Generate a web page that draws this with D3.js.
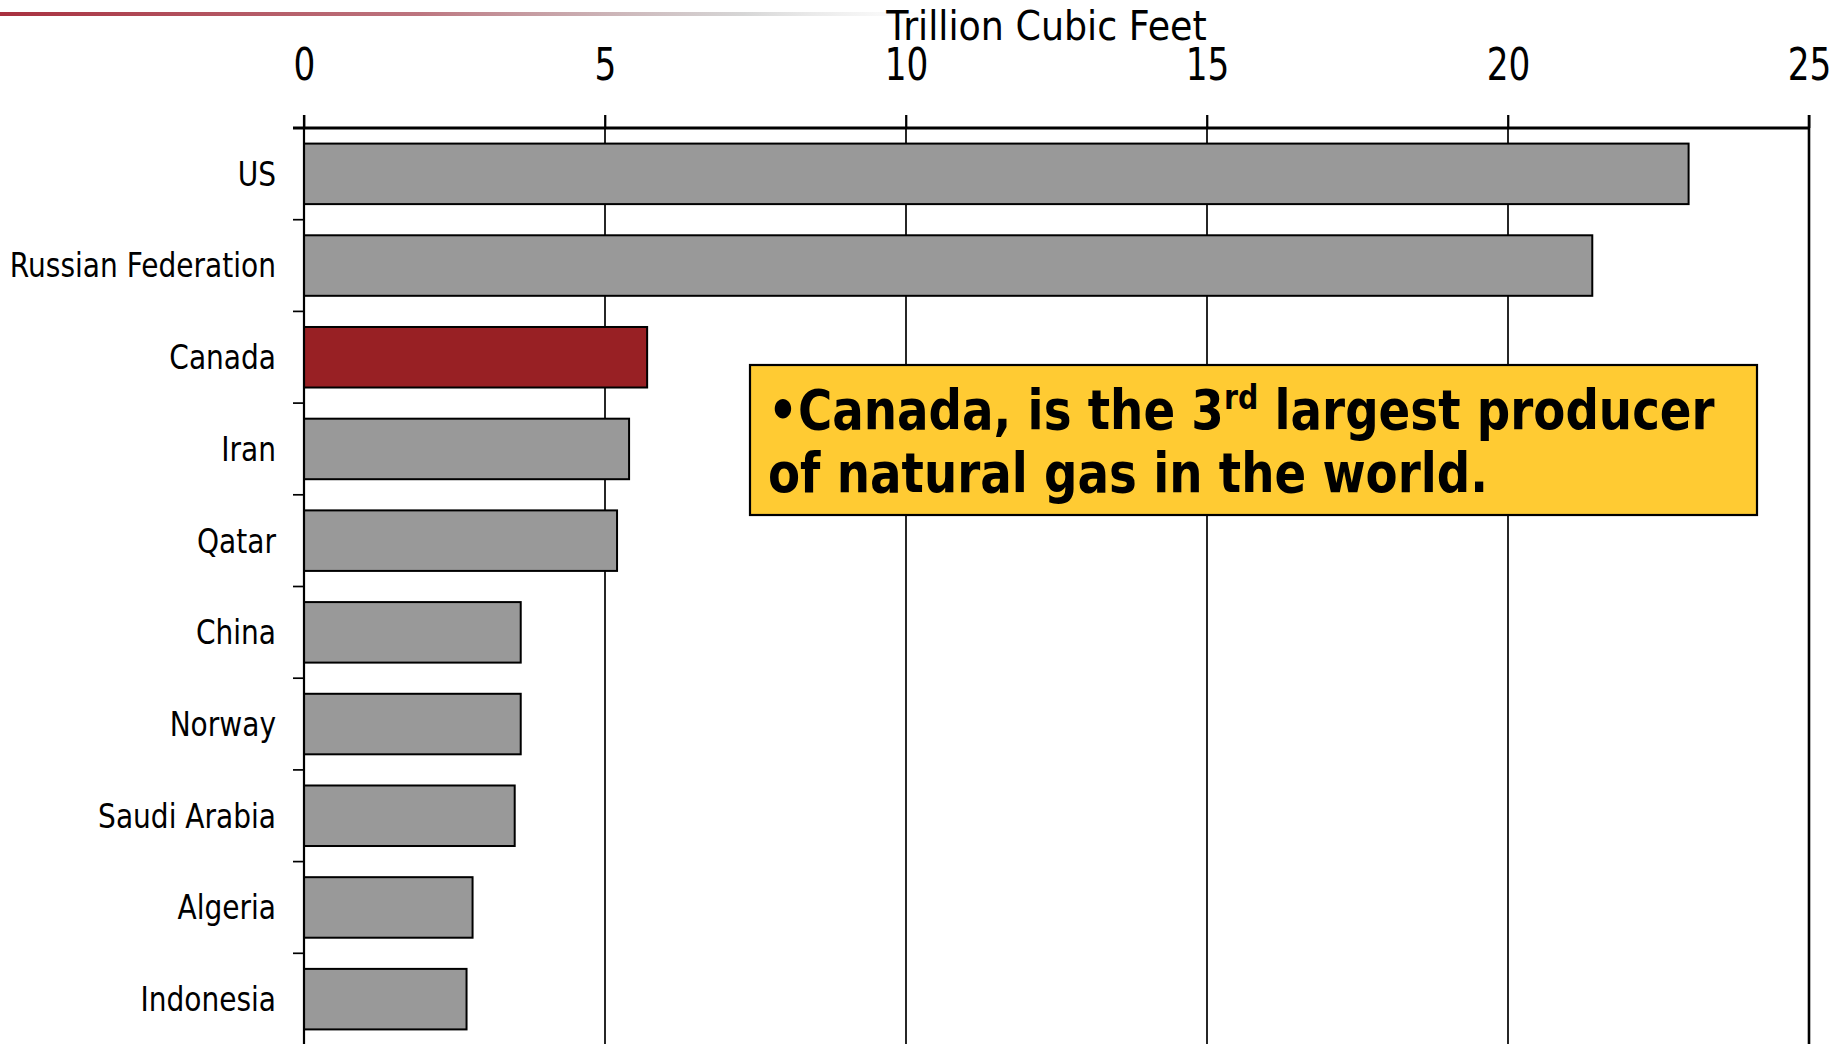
<!DOCTYPE html>
<html>
<head>
<meta charset="utf-8">
<script src="https://cdn.jsdelivr.net/npm/d3@7"></script>
<style>
  html, body { margin: 0; padding: 0; background: #ffffff; }
  svg { display: block; }
  text { font-family: "DejaVu Sans", Verdana, sans-serif; fill: #000; }
</style>
</head>
<body>
<svg id="chart" width="1835" height="1044"></svg>
<script>
// ---- data ----
const categories = ["US", "Russian Federation", "Canada", "Iran", "Qatar", "China", "Norway", "Saudi Arabia", "Algeria", "Indonesia"];
const values = [23.0, 21.4, 5.7, 5.4, 5.2, 3.6, 3.6, 3.5, 2.8, 2.7];
const highlight = "Canada";
const xTicks = [0, 5, 10, 15, 20, 25];
const axisTitle = "Trillion Cubic Feet";
const noteLine1 = ["•Canada, is the 3", "rd", " largest producer"];
const noteLine2 = "of natural gas in the world.";

// ---- layout ----
const mLeft = 304, mRight = 1809, mTop = 128, mBottom = 1045;
const svg = d3.select("#chart");

const x = d3.scaleLinear().domain([0, 25]).range([mLeft, mRight]);
const y = d3.scaleBand().domain(categories).range([mTop, mBottom]).paddingInner(0.34).paddingOuter(0.17);

// decorative header line
const defs = svg.append("defs");
const grad = defs.append("linearGradient").attr("id", "hdr").attr("x1", "0").attr("x2", "1").attr("y1", "0").attr("y2", "0");
grad.append("stop").attr("offset", "0").attr("stop-color", "#a8303f").attr("stop-opacity", 1);
grad.append("stop").attr("offset", "0.45").attr("stop-color", "#b56570").attr("stop-opacity", 0.9);
grad.append("stop").attr("offset", "0.8").attr("stop-color", "#bbbbbb").attr("stop-opacity", 0.6);
grad.append("stop").attr("offset", "1").attr("stop-color", "#dddddd").attr("stop-opacity", 0);
svg.append("rect").attr("x", 0).attr("y", 12).attr("width", 930).attr("height", 4).attr("fill", "url(#hdr)");

// vertical gridlines
const gridTop = mTop - 13;
svg.append("g").selectAll("line").data(xTicks.filter(d => d > 0 && d < 25)).join("line")
  .attr("x1", d => x(d)).attr("x2", d => x(d)).attr("y1", gridTop).attr("y2", mBottom)
  .attr("stroke", "#000").attr("stroke-width", 1.7);

// bars
svg.append("g").selectAll("rect").data(categories).join("rect")
  .attr("x", x(0))
  .attr("y", d => y(d))
  .attr("width", (d, i) => x(values[i]) - x(0))
  .attr("height", y.bandwidth())
  .attr("fill", d => d === highlight ? "#982024" : "#999999")
  .attr("stroke", "#000").attr("stroke-width", 2);

// frame: left axis, right border
svg.append("line").attr("x1", x(0)).attr("x2", x(0)).attr("y1", gridTop).attr("y2", mBottom).attr("stroke", "#000").attr("stroke-width", 2.2);
svg.append("line").attr("x1", x(25)).attr("x2", x(25)).attr("y1", gridTop).attr("y2", mBottom).attr("stroke", "#000").attr("stroke-width", 2.6);

// top axis
const xAxis = d3.axisTop(x).tickValues(xTicks).tickSize(13).tickSizeOuter(0).tickFormat(d3.format("d"));
const gx = svg.append("g").attr("transform", `translate(0,${mTop})`).call(xAxis);
gx.select(".domain").remove();
gx.selectAll(".tick line").attr("stroke", "#000").attr("stroke-width", 1.7);
gx.selectAll(".tick text")
  .attr("y", 0).attr("dy", 0)
  .attr("transform", `translate(0,${80 - mTop}) scale(0.78,1)`)
  .style("font-size", "44px").style("font-family", "DejaVu Sans");
svg.append("line").attr("x1", mLeft - 11).attr("x2", mRight + 1).attr("y1", mTop).attr("y2", mTop).attr("stroke", "#000").attr("stroke-width", 2.8);

// axis title
svg.append("text").attr("transform", `translate(${(mLeft + mRight) / 2 - 10},40) scale(0.91,1)`)
  .attr("text-anchor", "middle").style("font-size", "40px").text(axisTitle);

// left axis labels
const yAxis = d3.axisLeft(y).tickSize(0).tickSizeOuter(0);
const gy = svg.append("g").attr("transform", `translate(${mLeft},0)`).call(yAxis);
gy.select(".domain").remove();
const labScale = 0.85;
gy.selectAll(".tick text")
  .attr("x", 0).attr("dy", "0.36em")
  .attr("transform", `translate(-28,0) scale(${labScale},1)`)
  .style("font-size", "33px").style("font-family", "DejaVu Sans");

// category separator ticks
const gap = (y.step() - y.bandwidth()) / 2;
svg.append("g").selectAll("line").data(categories.slice(1)).join("line")
  .attr("x1", mLeft - 11).attr("x2", mLeft)
  .attr("y1", d => y(d) - gap).attr("y2", d => y(d) - gap)
  .attr("stroke", "#000").attr("stroke-width", 1.7);

// annotation box
const boxX = 750, boxY = 365, boxW = 1007, boxH = 150;
svg.append("rect").attr("x", boxX).attr("y", boxY).attr("width", boxW).attr("height", boxH)
  .attr("fill", "#ffcb33").attr("stroke", "#000").attr("stroke-width", 2.2);
const noteScale = 0.835;
const t1 = svg.append("text").attr("transform", `translate(${boxX + 18},429) scale(${noteScale},1)`)
  .style("font-size", "56px").style("font-weight", "bold");
t1.append("tspan").text(noteLine1[0]);
t1.append("tspan").attr("dy", -20).style("font-size", "34px").text(noteLine1[1]);
t1.append("tspan").attr("dy", 20).text(noteLine1[2]);
svg.append("text").attr("transform", `translate(${boxX + 18},492) scale(${noteScale},1)`)
  .style("font-size", "56px").style("font-weight", "bold").text(noteLine2);
</script>
</body>
</html>
